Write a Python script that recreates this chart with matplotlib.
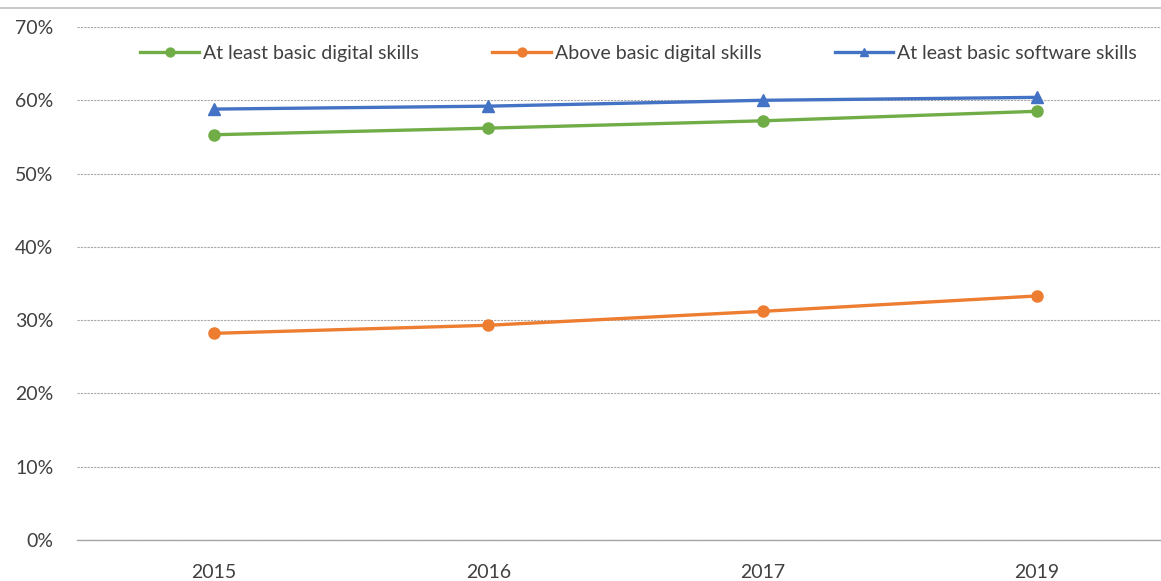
import matplotlib
matplotlib.use('Agg')
import matplotlib.pyplot as plt
from matplotlib.ticker import FuncFormatter

years = ["2015", "2016", "2017", "2019"]
basic_digital = [55.3, 56.2, 57.2, 58.5]
above_basic = [28.2, 29.3, 31.2, 33.3]
basic_software = [58.8, 59.2, 60.0, 60.4]

plt.rcParams['font.family'] = ['Lato', 'DejaVu Sans']

fig = plt.figure(figsize=(11.61, 5.81), dpi=100)
ax = fig.add_axes([0.0663, 0.0706, 0.945, 0.8829])

x = list(range(len(years)))
ax.plot(x, basic_digital, color="#70AD47", lw=2.4, marker="o", ms=8,
        label="At least basic digital skills")
ax.plot(x, above_basic, color="#ED7D31", lw=2.4, marker="o", ms=8,
        label="Above basic digital skills")
ax.plot(x, basic_software, color="#4472C4", lw=2.4, marker="^", ms=8,
        label="At least basic software skills")

ax.set_xlim(-0.5, len(years) - 0.5)
ax.set_ylim(0, 70)
ax.set_yticks(range(0, 71, 10))
ax.yaxis.set_major_formatter(FuncFormatter(lambda v, p: f"{v:.0f}%"))
ax.set_xticks(x)
ax.set_xticklabels(years)
ax.tick_params(axis='both', length=0, labelsize=14, colors="#404040")
ax.tick_params(axis='y', pad=17)
ax.tick_params(axis='x', pad=17)

ax.grid(axis='y', color="#a6a6a6", lw=0.8, ls=(0, (2, 1)))
ax.set_axisbelow(True)
for s in ["top", "right", "left"]:
    ax.spines[s].set_visible(False)
ax.spines["bottom"].set_color("#a6a6a6")
ax.spines["bottom"].set_linewidth(1.0)

leg = ax.legend(loc="upper center", bbox_to_anchor=(0.512, 1.0), ncol=3, frameon=False,
                fontsize=14, handlelength=3.0, columnspacing=3.8, handletextpad=0.2,
                markerscale=0.8)
for t in leg.get_texts():
    t.set_color("#404040")

# thin border line across the top
fig.add_artist(plt.Line2D([0, 1], [1 - 8 / 581, 1 - 8 / 581], color="#bfbfbf", lw=1.2))

fig.savefig("out.png", dpi=100)
